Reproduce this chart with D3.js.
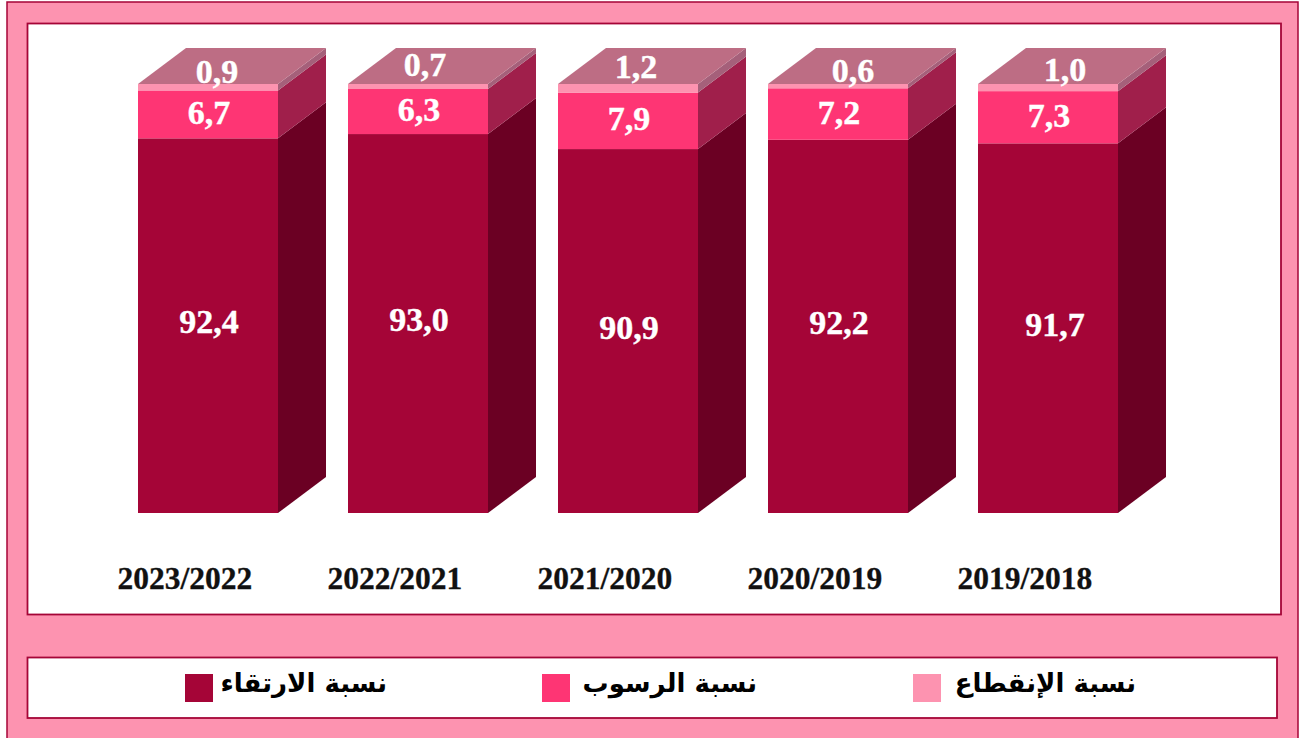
<!DOCTYPE html>
<html><head><meta charset="utf-8">
<style>html,body{margin:0;padding:0;background:#fff}svg{display:block}</style>
<script src="https://cdn.jsdelivr.net/npm/d3@7/dist/d3.min.js"></script></head>
<body><svg id="c" width="1307" height="738"></svg>
<script>
const categories=["2023/2022","2022/2021","2021/2020","2020/2019","2019/2018"];
const promotion=[92.4,93.0,90.9,92.2,91.7];
const repetition=[6.7,6.3,7.9,7.2,7.3];
const dropout=[0.9,0.7,1.2,0.6,1.0];
const legendLabels=["نسبة الارتقاء","نسبة الرسوب","نسبة الإنقطاع"];
// hand placement of some labels, as in the original (px from bar centre / top face)
const promotionNudgeX=[1,1,1,1,7];
const dropoutNudgeX=[9,7,8,15,17];
const dropoutY=[71.5,64.5,66.5,70.5,69.5];

const colors={bg:"#fd93b0",line:"#a50537",dark:"#a50537",darkSide:"#6b0023",mid:"#fe3574",midSide:"#a01f4b",light:"#fd93b0",lightSide:"#a5607a",top:"#bd6d84"};
const numFont="'Liberation Serif',serif";
const svg=d3.select("#c");
svg.append("rect").attr("x",7).attr("y",2).attr("width",1291).attr("height",760).attr("fill",colors.bg).attr("stroke",colors.line).attr("stroke-width",1.5);
const box=(x,y,w,h)=>svg.append("rect").attr("x",x).attr("y",y).attr("width",w).attr("height",h).attr("fill","#fff").attr("stroke",colors.line).attr("stroke-width",1.8);
box(27.5,23.5,1253.5,591);
box(27.5,657.5,1249.5,60.5);

const x=d3.scaleBand().domain(categories).range([138,1118]).paddingInner(1/3).paddingOuter(0);
const y=d3.scaleLinear().domain([40,100]).range([513,84]);
const dx=48,dy=-36;
const rows=categories.map((c,i)=>({c,i,p:promotion[i],r:repetition[i],d:dropout[i]}));
const poly=(g,pts,fill)=>g.append("polygon").attr("points",pts.map(p=>p.join(",")).join(" ")).attr("fill",fill);
const bars=svg.append("g").selectAll("g").data(rows).join("g");
bars.each(function(d){
  const g=d3.select(this),x0=x(d.c),x1=x0+x.bandwidth();
  const segs=[[40,d.p,colors.dark,colors.darkSide],[d.p,d.p+d.r,colors.mid,colors.midSide],[d.p+d.r,100,colors.light,colors.lightSide]];
  segs.forEach(([a,b,f,s])=>{
    poly(g,[[x1,y(a)],[x1+dx,y(a)+dy],[x1+dx,y(b)+dy],[x1,y(b)]],s);
    g.append("rect").attr("x",x0).attr("y",y(b)).attr("width",x1-x0).attr("height",y(a)-y(b)).attr("fill",f);
  });
  poly(g,[[x0,y(100)],[x0+dx,y(100)+dy],[x1+dx,y(100)+dy],[x1,y(100)]],colors.top);
  const cx=x0+x.bandwidth()/2;
  const t=(tx,ty,v)=>g.append("text").attr("x",tx).attr("y",ty).attr("text-anchor","middle").attr("dominant-baseline","central")
     .attr("font-family",numFont).attr("font-weight",700).attr("font-size",34).attr("fill","#fff").attr("stroke","#fff").attr("stroke-width",0.4).text(v.toFixed(1).replace(".",","));
  t(cx+promotionNudgeX[d.i],(y(40)+y(d.p))/2-4,d.p);
  t(cx+1,(y(d.p)+y(d.p+d.r))/2-2,d.r);
  t(cx+dropoutNudgeX[d.i],dropoutY[d.i],d.d);
  g.append("text").attr("x",cx-23).attr("y",578).attr("text-anchor","middle").attr("dominant-baseline","central")
   .attr("font-family",numFont).attr("font-weight",700).attr("font-size",31.5).attr("fill","#111").attr("stroke","#111").attr("stroke-width",0.3).text(d.c);
});
const legendX=[185,542,913],legendTextX=[387,757,1136],legendColors=[colors.dark,colors.mid,colors.light];
const lg=svg.append("g").selectAll("g").data(legendLabels).join("g");
lg.append("rect").attr("x",(d,i)=>legendX[i]).attr("y",674).attr("width",28).attr("height",28).attr("fill",(d,i)=>legendColors[i]);
lg.append("text").attr("x",(d,i)=>legendTextX[i]).attr("y",683).attr("direction","rtl").attr("text-anchor","start").attr("dominant-baseline","central")
  .attr("font-family","'DejaVu Sans',sans-serif").attr("font-weight",700).attr("font-size",26).attr("fill","#000").text(d=>d);
</script></body></html>
